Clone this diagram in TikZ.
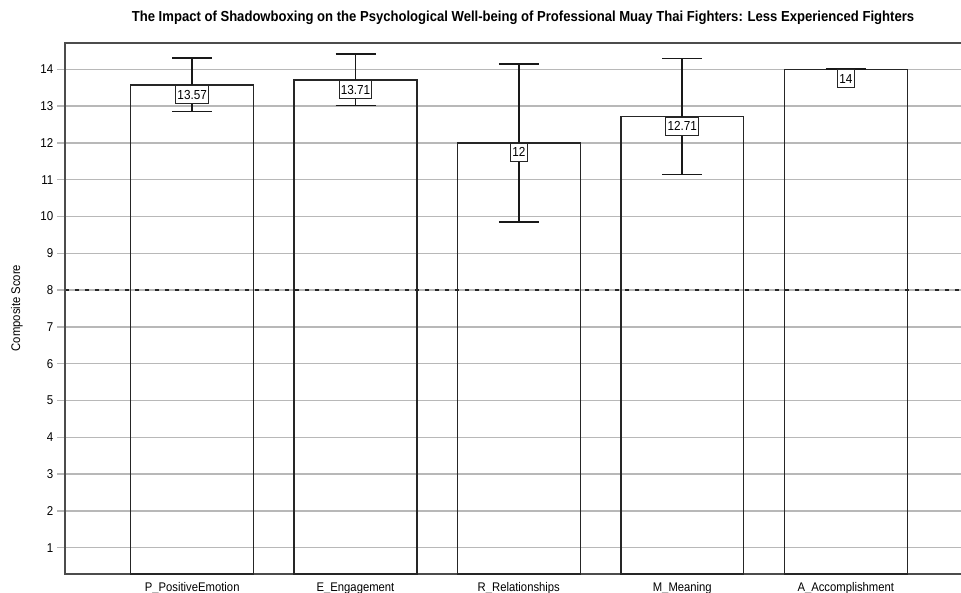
\documentclass[tikz,border=0pt]{standalone}
\usepackage{fontspec}
\setmainfont{Liberation Sans}[FakeStretch=0.9]
\begin{document}
\begin{tikzpicture}[x=0.75pt,y=-0.75pt,
  gridline/.style={draw=black!28, line width=1.1pt},
  refline/.style={draw=black!85, line width=1pt, dash pattern=on 3pt off 4.5pt},
  frame/.style={draw=black!70, line width=1.2pt},
  barbox/.style={draw=black!85, line width=1pt},
  errbar/.style={draw=black!90, line width=1.3pt},
  ticklabel/.style={font=\fontsize{9.6}{10}\selectfont, anchor=east, inner sep=0pt},
  catlabel/.style={font=\fontsize{9.4}{10}\selectfont, anchor=base, inner sep=0pt},
  vallabel/.style={draw=black!85, fill=white, line width=0.8pt, anchor=north,
    font=\fontsize{9.8}{10}\selectfont, inner xsep=1.3pt, inner ysep=0pt,
    minimum height=13.5pt},
  titlelabel/.style={font=\fontsize{10.9}{12}\selectfont\bfseries},
  axislabel/.style={font=\fontsize{9.4}{10}\selectfont, rotate=90}]
\useasboundingbox (0,0) rectangle (961,593);

% horizontal grid with tick stubs and tick labels
\foreach \k in {1,...,14}{
  \pgfmathsetmacro\yk{584.5-36.8*\k}
  \draw[gridline] (57,\yk) -- (961,\yk);
  \node[ticklabel] (tick\k) at (53.5,\yk) {\k};
}

% threshold line at 8
\coordinate (refL) at (65,290.1);
\coordinate (refR) at (961,290.1);
\draw[refline] (refL) -- (refR);

% plot frame (open on the right)
\coordinate (fTR) at (961,43);
\coordinate (fTL) at (65,43);
\coordinate (fBL) at (65,574);
\coordinate (fBR) at (961,574);
\draw[frame] (fTR) -- (fTL) -- (fBL) -- (fBR);

% bars, error bars, value labels and category labels
\foreach \n/\cx/\v/\lo/\hi/\lab/\cat in {
  p/192.2/13.57/12.85/14.30/13.57/P\textunderscore PositiveEmotion,
  e/355.5/13.71/13.02/14.41/13.71/E\textunderscore Engagement,
  r/518.8/12/9.86/14.14/12/R\textunderscore Relationships,
  m/682.3/12.71/11.14/14.29/12.71/M\textunderscore Meaning,
  a/845.8/14/14/14/14/A\textunderscore Accomplishment}{
  \pgfmathsetmacro\yv{584.5-36.8*\v}
  \pgfmathsetmacro\ylo{584.5-36.8*\lo}
  \pgfmathsetmacro\yhi{584.5-36.8*\hi}
  \draw[barbox] ({\cx-61.4},574) rectangle ({\cx+61.4},\yv);
  \coordinate (\n hi) at (\cx,\yhi);
  \coordinate (\n lo) at (\cx,\ylo);
  \draw[errbar] (\n lo) -- (\n hi);
  \draw[errbar] ({\cx-20},\yhi) -- ({\cx+20},\yhi);
  \draw[errbar] ({\cx-20},\ylo) -- ({\cx+20},\ylo);
  \node[vallabel] (\n val) at (\cx,\yv) {\lab};
  \node[catlabel] (\n cat) at (\cx,591) {\cat};
}

% title and axis label
\node[titlelabel] (title) at (523,18) {The Impact of Shadowboxing on the Psychological Well-being of Professional Muay Thai Fighters: Less Experienced Fighters};
\node[axislabel] (ylab) at (17,308) {Composite Score};
\end{tikzpicture}
\end{document}
